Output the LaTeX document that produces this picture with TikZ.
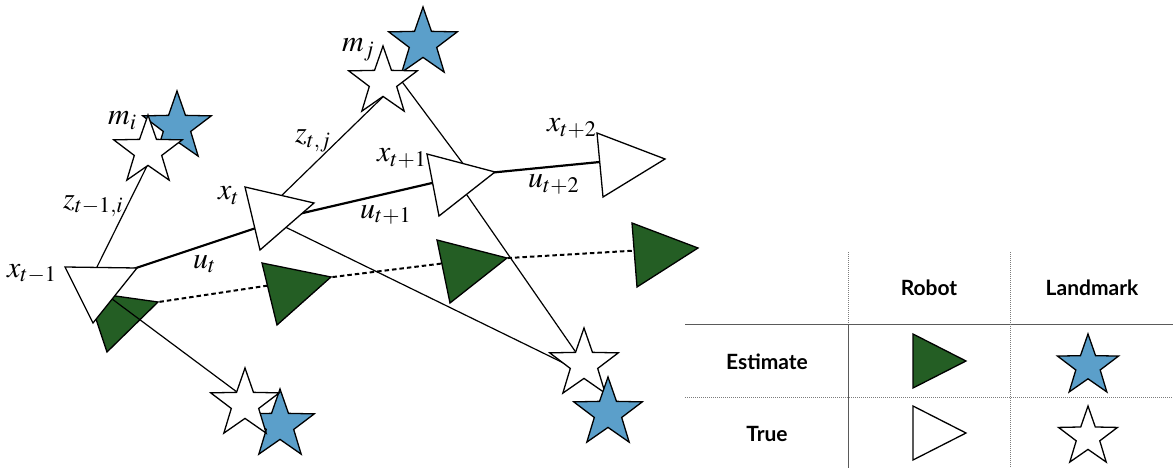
\documentclass[tikz,border=0pt]{standalone}
\usepackage{mathptmx}
\usepackage{fontspec}
\setmainfont{Liberation Serif}
\newfontfamily\legendfont{Lato}
\definecolor{estgreen}{RGB}{36,94,36}
\definecolor{estblue}{RGB}{91,159,202}
\definecolor{gridgray}{RGB}{90,90,90}
\tikzset{
  robot/.style={draw=black, line width=1.3pt, line join=miter},
  truerobot/.style={robot, fill=white},
  estrobot/.style={robot, fill=estgreen},
  obs/.style={line width=1.2pt},
  odo/.style={line width=2.2pt},
  estpath/.style={line width=2pt, dash pattern=on 4.5pt off 3pt},
  mathlbl/.style={inner sep=0pt, anchor=base west, font=\fontsize{30}{36}\selectfont},
  legtxt/.style={inner sep=0pt, anchor=base, font=\legendfont\bfseries\fontsize{21}{25}\selectfont},
  truestar/.style={fill=white, draw=black, line width=1.3pt, line join=miter},
  eststar/.style={fill=estblue, draw=black, line width=1.3pt, line join=miter},
  leggrid/.style={draw=gridgray, line width=1pt},
  legdot/.style={draw=gridgray!80, line width=0.8pt, dash pattern=on 1pt off 1pt},
  pics/lmstar/.style={code={
    \path[pic actions] (-90:36) -- (-54:14.4) -- (-18:36) -- (18:14.4) -- (54:36)
      -- (90:14.4) -- (126:36) -- (162:14.4) -- (198:36) -- (234:14.4) -- cycle;}},
}
\begin{document}
\begin{tikzpicture}[x=1pt, y=-1pt]
\useasboundingbox (0,0) rectangle (1173,468);

% ---- named anchor coordinates ----
\coordinate (o1a) at (92,277);   \coordinate (o1b) at (150,160);
\coordinate (o2a) at (275,202);  \coordinate (o2b) at (390,90);
\coordinate (o3a) at (397,75);   \coordinate (o3b) at (470,173);
\coordinate (o4a) at (460,185);  \coordinate (o4b) at (584,364);
\coordinate (o5a) at (275,222);  \coordinate (o5b) at (584,373);
\coordinate (o6a) at (100,290);  \coordinate (o6b) at (245,398);
\coordinate (p1) at (130,270);   \coordinate (p2) at (265,225);
\coordinate (p3) at (290,216);   \coordinate (p4) at (445,180);
\coordinate (p5) at (488,173);   \coordinate (p6) at (610,161);
\coordinate (q1) at (152,303);   \coordinate (q2) at (275,284.5);
\coordinate (q3) at (325,278);   \coordinate (q4) at (450,262.5);
\coordinate (q5) at (500,258.5); \coordinate (q6) at (645,250);

% ---- estimated path (dashed) ----
\draw[estpath] (q1) -- (q2);
\draw[estpath] (q3) -- (q4);
\draw[estpath] (q5) -- (q6);

% ---- estimated robot poses ----
\draw[estrobot] (87,292) -- (158,302) -- (107,352) -- cycle;
\draw[estrobot] (262,263) -- (331,277) -- (277,325) -- cycle;
\draw[estrobot] (437,240) -- (507,258) -- (450,303) -- cycle;
\draw[estrobot] (632,223) -- (698,248) -- (637,287) -- cycle;

% ---- observations ----
\draw[obs] (o1a) -- (o1b);
\draw[obs] (o2a) -- (o2b);
\draw[obs] (o3a) -- (o3b);
\draw[obs] (o4a) -- (o4b);
\draw[obs] (o5a) -- (o5b);
\draw[obs] (o6a) -- (o6b);

% ---- true path (odometry) ----
\draw[odo] (p1) -- (p2);
\draw[odo] (p3) -- (p4);
\draw[odo] (p5) -- (p6);

% ---- true robot poses ----
\draw[truerobot] (65,267) -- (137,268) -- (93,323) -- cycle;
\draw[truerobot] (245,187) -- (314,203) -- (260,250) -- cycle;
\draw[truerobot] (427,154) -- (495,172) -- (439,216) -- cycle;
\draw[truerobot] (597,133) -- (665,159) -- (603,197) -- cycle;

% ---- landmarks ----
\pic[eststar] at (177,127) {lmstar};
\pic[truestar] at (148,151) {lmstar};
\pic[eststar] at (423,43) {lmstar};
\pic[truestar] at (383,82) {lmstar};
\pic[eststar] at (280,425) {lmstar};
\pic[truestar] at (245,404) {lmstar};
\pic[truestar] at (584,364) {lmstar};
\pic[eststar] at (608,413) {lmstar};

% ---- labels ----
\node[mathlbl] (lxtm1) at (7,277) {$x_{t-1}$};
\node[mathlbl] (lmi) at (108,125) {$m_i$};
\node[mathlbl] (lmj) at (342,52) {$m_j$};
\node[mathlbl] (lztj) at (295,143) {$z_{t,j}$};
\node[mathlbl] (lztm1i) at (63,208) {$z_{t-1,i}$};
\node[mathlbl] (lxt) at (218,200) {$x_t$};
\node[mathlbl] (lut) at (193,268) {$u_t$};
\node[mathlbl] (lutp1) at (360,218) {$u_{t+1}$};
\node[mathlbl] (lxtp1) at (377,162) {$x_{t+1}$};
\node[mathlbl] (lxtp2) at (547,132) {$x_{t+2}$};
\node[mathlbl] (lutp2) at (528,188) {$u_{t+2}$};

% ---- legend ----
\draw[leggrid] (685,324) -- (1173,324);
\draw[legdot] (685,397) -- (1173,397);
\draw[legdot] (848,252) -- (848,324);
\draw[leggrid] (848,324) -- (848,468);
\draw[legdot] (1010,252) -- (1010,468);
\node[legtxt] (hrobot) at (929,295) {Robot};
\node[legtxt] (hland) at (1092,295) {Landmark};
\node[legtxt] (hest) at (767,369) {Estimate};
\node[legtxt] (htrue) at (767,441) {True};
\draw[estrobot] (913,334) -- (966,361) -- (913,388) -- cycle;
\draw[truerobot] (913,406) -- (966,433) -- (913,460) -- cycle;
\pic[eststar, scale=0.89] at (1088,366) {lmstar};
\pic[truestar, scale=0.86] at (1088,437) {lmstar};
\end{tikzpicture}
\end{document}
